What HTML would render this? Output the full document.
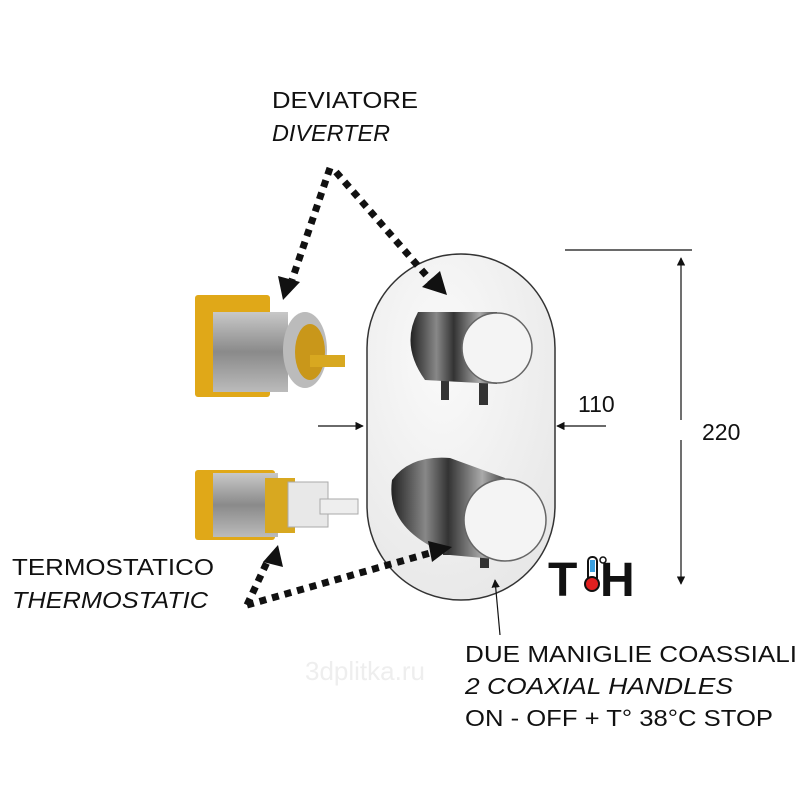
<!DOCTYPE html>
<html><head><meta charset="utf-8"><style>
html,body{margin:0;padding:0;background:#fff;width:800px;height:800px;overflow:hidden}
svg{display:block}
text{font-family:"Liberation Sans",sans-serif;font-size:23px;fill:#111}
</style></head><body>
<svg width="800" height="800" viewBox="0 0 800 800" xmlns="http://www.w3.org/2000/svg">
<defs>
<linearGradient id="chrome" x1="0" y1="0" x2="1" y2="0">
<stop offset="0" stop-color="#222"/><stop offset=".3" stop-color="#888"/><stop offset=".5" stop-color="#333"/><stop offset=".8" stop-color="#aaa"/><stop offset="1" stop-color="#444"/></linearGradient>
<linearGradient id="steel" x1="0" y1="0" x2="0" y2="1">
<stop offset="0" stop-color="#c8c8c8"/><stop offset=".5" stop-color="#8a8a8a"/><stop offset="1" stop-color="#bbb"/></linearGradient>
<radialGradient id="plate" cx=".4" cy=".3" r=".9"><stop offset="0" stop-color="#fafafa"/><stop offset="1" stop-color="#e4e4e4"/></radialGradient>
<marker id="ah" viewBox="0 0 10 10" refX="9" refY="5" markerWidth="7" markerHeight="7" orient="auto"><path d="M0,0 L10,5 L0,10z" fill="#111"/></marker>
</defs>

<!-- plate -->
<rect x="367" y="254" width="188" height="346" rx="94" fill="url(#plate)" stroke="#333" stroke-width="1.5"/>

<!-- top knob -->
<rect x="441" y="375" width="8" height="25" fill="#333"/>
<rect x="479" y="380" width="9" height="25" fill="#333"/>
<path d="M418,312 L497,312 L497,384 L425,380 Q400,345 418,312z" fill="url(#chrome)"/>
<circle cx="497" cy="348" r="35" fill="#f4f4f4" stroke="#666" stroke-width="1.5"/>
<!-- bottom knob -->
<rect x="443" y="530" width="8" height="25" fill="#333"/>
<rect x="480" y="548" width="9" height="20" fill="#333"/>
<path d="M392,480 Q410,455 450,458 L505,478 L505,560 L450,555 Q385,530 392,480z" fill="url(#chrome)"/>
<circle cx="505" cy="520" r="41" fill="#f4f4f4" stroke="#666" stroke-width="1.5"/>

<!-- upper valve -->
<rect x="195" y="295" width="75" height="102" fill="#e0a818" rx="3"/>
<rect x="213" y="312" width="75" height="80" fill="url(#steel)"/>
<ellipse cx="305" cy="350" rx="22" ry="38" fill="#bbb"/>
<ellipse cx="310" cy="352" rx="15" ry="28" fill="#c9971a"/>
<rect x="310" y="355" width="35" height="12" fill="#d8a820"/>
<!-- lower valve -->
<rect x="195" y="470" width="80" height="70" fill="#e0a818" rx="3"/>
<rect x="213" y="473" width="65" height="64" fill="url(#steel)"/>
<rect x="265" y="478" width="30" height="55" fill="#d8a820"/>
<rect x="288" y="482" width="40" height="45" fill="#e8e8e8" stroke="#aaa"/>
<rect x="320" y="499" width="38" height="15" fill="#eee" stroke="#aaa"/>

<!-- dotted arrows -->
<g stroke="#111" stroke-width="7" stroke-dasharray="7 6" fill="none">
<path d="M330,168 L292,280"/>
<path d="M336,172 L432,282"/>
<path d="M247,605 L268,560"/>
<path d="M247,605 L430,553"/>
</g>
<g fill="#111">
<path d="M283,300 L278,276 L300,282z"/>
<path d="M447,295 L422,287 L440,271z"/>
<path d="M278,545 L283,567 L263,562z"/>
<path d="M452,547 L432,562 L428,541z"/>
</g>

<!-- dimension lines -->
<g stroke="#111" stroke-width="1.2" fill="none">
<line x1="318" y1="426" x2="363" y2="426" marker-end="url(#ah)"/>
<line x1="606" y1="426" x2="557" y2="426" marker-end="url(#ah)"/>
<line x1="565" y1="250" x2="692" y2="250"/>
<line x1="681" y1="420" x2="681" y2="258" marker-end="url(#ah)"/>
<line x1="681" y1="440" x2="681" y2="584" marker-end="url(#ah)"/>
<line x1="500" y1="635" x2="495" y2="580" marker-end="url(#ah)"/>
</g>
<text x="578" y="412">110</text>
<text x="702" y="440">220</text>

<!-- TH logo -->
<text x="548" y="596" style="font-size:48px;font-weight:bold">T</text>
<text x="600" y="596" style="font-size:48px;font-weight:bold">H</text>
<rect x="588" y="557" width="9" height="26" rx="4" fill="#fff" stroke="#111" stroke-width="2"/>
<rect x="590" y="560" width="5" height="12" fill="#3aa0e0"/>
<circle cx="592" cy="584" r="7" fill="#e02020" stroke="#111" stroke-width="2"/>
<circle cx="603" cy="560" r="3" fill="none" stroke="#111" stroke-width="1.5"/>

<!-- labels -->
<text x="272" y="108" textLength="146" lengthAdjust="spacingAndGlyphs">DEVIATORE</text>
<text x="272" y="141" font-style="italic" textLength="118" lengthAdjust="spacingAndGlyphs">DIVERTER</text>
<text x="12" y="575" textLength="202" lengthAdjust="spacingAndGlyphs">TERMOSTATICO</text>
<text x="12" y="608" font-style="italic" textLength="196" lengthAdjust="spacingAndGlyphs">THERMOSTATIC</text>
<text x="465" y="662" textLength="332" lengthAdjust="spacingAndGlyphs">DUE MANIGLIE COASSIALI</text>
<text x="465" y="694" font-style="italic" textLength="268" lengthAdjust="spacingAndGlyphs">2 COAXIAL HANDLES</text>
<text x="465" y="726" textLength="308" lengthAdjust="spacingAndGlyphs">ON - OFF + T°   38°C STOP</text>
<text x="305" y="680" style="font-size:26px;fill:#eee">3dplitka.ru</text>
</svg>
</body></html>
